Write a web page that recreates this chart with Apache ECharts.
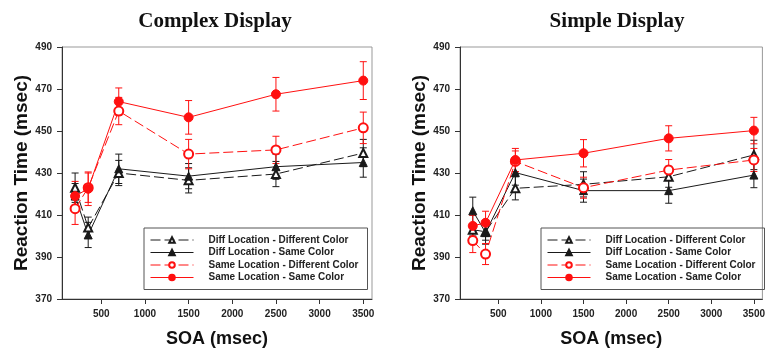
<!DOCTYPE html>
<html>
<head>
<meta charset="utf-8">
<script src="https://cdn.jsdelivr.net/npm/echarts@6/dist/echarts.min.js"></script>
<style>
  html, body { margin: 0; padding: 0; background: #fff; }
  #chart { width: 768px; height: 356px; }
</style>
</head>
<body>
<div id="chart"></div>
<script>
// SOA values (msec) shared by both panels
const soa = [200, 350, 700, 1500, 2500, 3500];
const xTicks = [500, 1000, 1500, 2000, 2500, 3000, 3500];

const seriesNames = [
  'Diff Location - Different Color',
  'Diff Location - Same Color',
  'Same Location - Different Color',
  'Same Location - Same Color'
];

// Complex display: means and error (+/-)
const complexDiffDiff = [423, 404, 430, 426.5, 429.5, 439.5];
const complexDiffDiffErr = [7, 5, 6, 6, 6, 6.5];
const complexDiffSame = [419, 400.5, 432, 428.5, 433, 435];
const complexDiffSameErr = [6, 6, 7, 6, 6, 7];
const complexSameDiff = [413, 423, 459.5, 439, 441, 451.5];
const complexSameDiffErr = [7.5, 7, 6.5, 7, 6.5, 7.5];
const complexSameSame = [419, 422.5, 464, 456.5, 467.5, 474];
const complexSameSameErr = [7, 8, 6.5, 8, 8, 9];

// Simple display
const simpleDiffDiff = [403, 402, 422.7, 424.6, 428.2, 438.6];
const simpleDiffDiffErr = [3, 4, 5.5, 6, 5, 7];
const simpleDiffSame = [412, 401.6, 430.2, 421.6, 421.6, 429];
const simpleDiffSameErr = [6.5, 5.5, 6, 5.5, 6, 6];
const simpleSameDiff = [397.8, 391.4, 435.5, 423, 431.4, 436.2];
const simpleSameDiffErr = [5.7, 5, 5, 5, 5, 5.5];
const simpleSameSame = [404.8, 406.3, 436.2, 439.4, 446.5, 450.2];
const simpleSameSameErr = [5, 5.5, 5.5, 6.5, 6, 6.3];

const BLACK = '#1a1a1a';
const RED = '#ff1010';
const SANS = '"Liberation Sans", Arial, sans-serif';
const SERIF = '"Liberation Serif", "Times New Roman", serif';

const styles = [
  { color: BLACK, dash: [10, 4], symbol: 'emptyTriangle', size: 8 },
  { color: BLACK, dash: 'solid', symbol: 'triangle', size: 8 },
  { color: RED, dash: [10, 4], symbol: 'emptyCircle', size: 9 },
  { color: RED, dash: 'solid', symbol: 'circle', size: 9 }
];

function errorBars(idx, means, errs, color) {
  return {
    type: 'custom',
    xAxisIndex: idx,
    yAxisIndex: idx,
    silent: true,
    z: 1,
    data: soa.map((x, i) => [x, means[i] - errs[i], means[i] + errs[i]]),
    renderItem: function (params, api) {
      const lo = api.coord([api.value(0), api.value(1)]);
      const hi = api.coord([api.value(0), api.value(2)]);
      const w = 3.5;
      const st = { stroke: color, lineWidth: 1 };
      return {
        type: 'group',
        children: [
          { type: 'line', shape: { x1: lo[0], y1: lo[1], x2: hi[0], y2: hi[1] }, style: st },
          { type: 'line', shape: { x1: lo[0] - w, y1: lo[1], x2: lo[0] + w, y2: lo[1] }, style: st },
          { type: 'line', shape: { x1: hi[0] - w, y1: hi[1], x2: hi[0] + w, y2: hi[1] }, style: st }
        ]
      };
    }
  };
}

function lineSeries(idx, k, means) {
  const s = styles[k];
  return {
    name: seriesNames[k],
    type: 'line',
    xAxisIndex: idx,
    yAxisIndex: idx,
    z: 3,
    data: soa.map((x, i) => [x, means[i]]),
    symbol: s.symbol,
    symbolSize: s.size,
    lineStyle: { color: s.color, width: 1, type: s.dash },
    itemStyle: { color: s.color, borderColor: s.color, borderWidth: 1 }
  };
}

const panels = [
  [[complexDiffDiff, complexDiffDiffErr], [complexDiffSame, complexDiffSameErr],
   [complexSameDiff, complexSameDiffErr], [complexSameSame, complexSameSameErr]],
  [[simpleDiffDiff, simpleDiffDiffErr], [simpleDiffSame, simpleDiffSameErr],
   [simpleSameDiff, simpleSameDiffErr], [simpleSameSame, simpleSameSameErr]]
];

const series = [];
panels.forEach((panel, idx) => {
  panel.forEach(([m, e], k) => {
    series.push(errorBars(idx, m, e, styles[k].color));
    series.push(lineSeries(idx, k, m));
  });
});

function xAxis(idx) {
  return {
    type: 'value', gridIndex: idx, min: 50, max: 3600,
    name: 'SOA (msec)', nameLocation: 'middle', nameGap: 31,
    nameTextStyle: { fontFamily: SANS, fontWeight: 'bold', fontSize: 18, color: '#111' },
    axisLine: { lineStyle: { color: '#333', width: 1 } },
    axisTick: { customValues: xTicks, length: 5, lineStyle: { color: '#333' } },
    axisLabel: {
      customValues: xTicks, margin: 10, formatter: v => String(v),
      fontFamily: SANS, fontWeight: 'bold', fontSize: 10, color: '#222'
    },
    splitLine: { show: false }
  };
}

function yAxis(idx) {
  return {
    type: 'value', gridIndex: idx, min: 370, max: 490, interval: 20,
    name: 'Reaction Time (msec)', nameLocation: 'middle', nameGap: 26,
    nameTextStyle: { fontFamily: SANS, fontWeight: 'bold', fontSize: 19, color: '#111' },
    axisLine: { show: true, lineStyle: { color: '#333', width: 1 } },
    axisTick: { show: true, length: 5, lineStyle: { color: '#333' } },
    axisLabel: { margin: 10, fontFamily: SANS, fontWeight: 'bold', fontSize: 10, color: '#222' },
    splitLine: { show: false }
  };
}

function legend(left) {
  return {
    orient: 'vertical', left: left, top: 228,
    itemWidth: 43, itemHeight: 7, itemGap: 2.5,
    padding: [7, 9, 7, 6],
    borderColor: '#555', borderWidth: 1,
    selectedMode: false,
    lineStyle: { width: 1 },
    textStyle: { fontFamily: SANS, fontWeight: 'bold', fontSize: 10, color: '#222', padding: [0, 0, 0, 10] },
    data: seriesNames
  };
}

const chart = echarts.init(document.getElementById('chart'), null, { renderer: 'canvas' });
chart.setOption({
  animation: false,
  backgroundColor: '#fff',
  title: [
    { text: 'Complex Display', left: 210, top: 6, textAlign: 'center',
      textStyle: { fontFamily: SERIF, fontWeight: 'bold', fontSize: 21, color: '#111' } },
    { text: 'Simple Display', left: 612, top: 6, textAlign: 'center',
      textStyle: { fontFamily: SERIF, fontWeight: 'bold', fontSize: 21, color: '#111' } }
  ],
  grid: [
    { left: 62, top: 47, width: 310, height: 252, show: true, borderColor: '#999', borderWidth: 1, backgroundColor: 'transparent' },
    { left: 460, top: 47, width: 307, height: 252, show: true, borderColor: '#999', borderWidth: 1, backgroundColor: 'transparent' }
  ],
  xAxis: [xAxis(0), xAxis(1)],
  yAxis: [yAxis(0), yAxis(1)],
  legend: [legend(144), legend(541)],
  series: series
});
</script>
</body>
</html>
